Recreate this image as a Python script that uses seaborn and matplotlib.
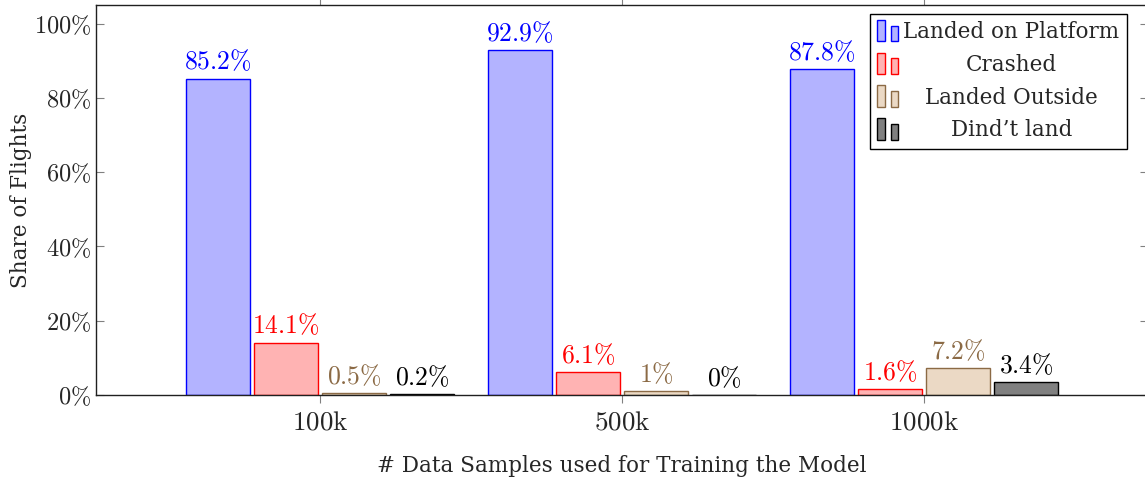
import pandas as pd
import matplotlib
matplotlib.use("Agg")
import matplotlib.pyplot as plt
from matplotlib.legend_handler import HandlerBase
from matplotlib.patches import Rectangle
import seaborn as sns

# data
categories = ["100k", "500k", "1000k"]
outcomes = ["Landed on Platform", "Crashed", "Landed Outside", "Dind\u2019t land"]
landed_platform = [85.2, 92.9, 87.8]
crashed = [14.1, 6.1, 1.6]
landed_outside = [0.5, 1.0, 7.2]
didnt_land = [0.2, 0.0, 3.4]

fill_colors = ["#b3b3ff", "#ffb3b3", "#ebd9c5", "#808080"]
edge_colors = ["#0000ff", "#ff0000", "#8b6a45", "#000000"]
text_colors = ["#0000ff", "#ff0000", "#8b6a45", "#000000"]

sns.set_style("ticks")
plt.rcParams["font.family"] = ["DejaVu Serif"]
plt.rcParams["mathtext.fontset"] = "cm"

df = pd.DataFrame({
    "samples": categories * 4,
    "outcome": [o for o in outcomes for _ in categories],
    "share": landed_platform + crashed + landed_outside + didnt_land,
})


class TwoBarHandler(HandlerBase):
    """pgfplots-style ybar legend image: two small bars."""
    def create_artists(self, legend, orig_handle, xdescent, ydescent,
                       width, height, fontsize, trans):
        fc = orig_handle.get_facecolor()
        ec = orig_handle.get_edgecolor()
        bw = width * 0.33
        r1 = Rectangle((-xdescent, -ydescent - 0.15 * height), bw, height * 1.3,
                       facecolor=fc, edgecolor=ec, lw=1, transform=trans)
        r2 = Rectangle((-xdescent + width * 0.62, -ydescent - 0.15 * height), bw, height * 0.95,
                       facecolor=fc, edgecolor=ec, lw=1, transform=trans)
        return [r1, r2]


fig = plt.figure(figsize=(11.45, 4.82), dpi=100)
ax = fig.add_axes([96 / 1145, 87 / 482, 1052 / 1145, 390 / 482])

sns.barplot(data=df, x="samples", y="share", hue="outcome", order=categories,
            hue_order=outcomes, palette=fill_colors, width=0.9, gap=0.06,
            saturation=1, ax=ax, legend=False)

for i, cont in enumerate(ax.containers):
    for bar in cont:
        bar.set_edgecolor(edge_colors[i])
        bar.set_linewidth(1)
    labels = [r"$%s\%%$" % f"{v:g}" for v in cont.datavalues]
    ax.bar_label(cont, labels=labels, padding=3, color=text_colors[i], fontsize=18.5)

ax.set_xlim(-0.742, 2.741)
ax.set_ylim(0, 105)
ax.set_yticks([0, 20, 40, 60, 80, 100])
ax.set_yticklabels([r"$%d\%%$" % t for t in [0, 20, 40, 60, 80, 100]], fontsize=17.5)
ax.set_xticks([0, 1, 2])
ax.set_xticklabels([r"$\mathrm{%s}$" % c for c in categories], fontsize=19.5)
ax.tick_params(axis="y", direction="in", length=6, color="#808080", right=True, left=True)
ax.tick_params(axis="x", direction="out", length=6, color="#808080", top=True, bottom=True)
for s in ax.spines.values():
    s.set_visible(True)
    s.set_color("#202020")
    s.set_linewidth(1)

ax.set_xlabel("# Data Samples used for Training the Model", fontsize=15.5, labelpad=14)
ax.set_ylabel("Share of Flights", fontsize=15.5, labelpad=1)

handles = [Rectangle((0, 0), 1, 1, facecolor=fill_colors[i], edgecolor=edge_colors[i])
           for i in range(4)]
leg = ax.legend(handles, outcomes, loc="upper right", bbox_to_anchor=(0.98, 0.978),
                fontsize=15.5, frameon=True, fancybox=False, framealpha=1,
                edgecolor="black", handler_map={Rectangle: TwoBarHandler()},
                handlelength=1.0, handleheight=0.8, handletextpad=0.2,
                labelspacing=0.5, borderpad=0.35, borderaxespad=0)
leg.get_frame().set_linewidth(1)

# center the legend entries like pgfplots does
fig.canvas.draw()
renderer = fig.canvas.get_renderer()
widths = [t.get_window_extent(renderer).width for t in leg.get_texts()]
widest = max(widths)
for t, w in zip(leg.get_texts(), widths):
    t.set_position(((widest - w) / 2, 0))

fig.savefig("out.png", dpi=100)
